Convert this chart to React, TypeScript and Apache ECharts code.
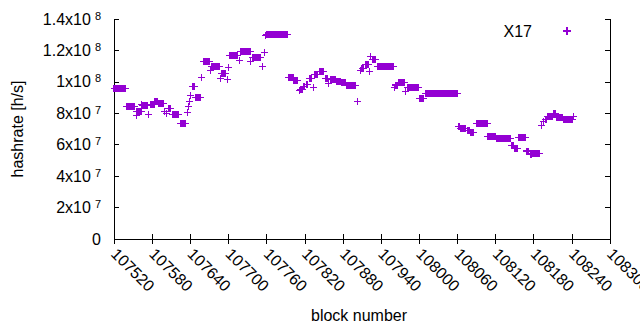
import React, { useEffect, useRef } from "react";
import * as echarts from "echarts";

// Runs of consecutive blocks sharing the same hashrate
const runStart = [
  107520, 107539, 107555, 107556, 107564, 107565, 107575, 107577, 107584, 107590,
  107600, 107603, 107605, 107612, 107624, 107635, 107637, 107639, 107641, 107643,
  107648, 107658, 107660, 107672, 107674, 107687, 107689, 107698, 107700, 107702,
  107717, 107719, 107735, 107738, 107753, 107756, 107758, 107760, 107795, 107803,
  107811, 107813, 107818, 107822, 107827, 107834, 107836, 107843, 107852, 107858,
  107860, 107870, 107878, 107886, 107903, 107907, 107910, 107915, 107922, 107924,
  107926, 107935, 107961, 107963, 107968, 107979, 107981, 108001, 108010, 108062,
  108065, 108076, 108081, 108090, 108108, 108121, 108145, 108150, 108156, 108168,
  108175, 108178, 108192, 108195, 108198, 108201, 108211, 108216, 108227, 108242,
];
const runEnd = [
  107538, 107553, 107555, 107563, 107564, 107572, 107575, 107583, 107589, 107598,
  107600, 107603, 107609, 107622, 107633, 107635, 107637, 107639, 107641, 107646,
  107656, 107658, 107670, 107672, 107686, 107687, 107696, 107698, 107700, 107714,
  107717, 107734, 107735, 107750, 107753, 107756, 107758, 107793, 107802, 107809,
  107811, 107816, 107820, 107824, 107830, 107834, 107840, 107850, 107856, 107858,
  107868, 107876, 107884, 107900, 107903, 107908, 107912, 107920, 107922, 107924,
  107932, 107960, 107961, 107966, 107977, 107979, 107999, 108007, 108060, 108064,
  108073, 108079, 108086, 108107, 108120, 108143, 108148, 108154, 108167, 108172,
  108176, 108189, 108193, 108196, 108200, 108209, 108215, 108226, 108241, 108242,
];
const runValue = [
  96.0e6, 84.4e6, 78.5e6, 81.4e6, 85.9e6, 84.8e6, 79.3e6, 85.7e6, 87.8e6, 86.3e6,
  81.4e6, 80.0e6, 83.2e6, 79.3e6, 73.6e6, 80.6e6, 84.6e6, 87.8e6, 91.2e6, 97.2e6,
  90.2e6, 102.9e6, 113.1e6, 107.1e6, 109.9e6, 102.3e6, 105.4e6, 101.6e6, 109.3e6, 116.9e6,
  113.3e6, 119.2e6, 112.8e6, 115.6e6, 109.6e6, 118.8e6, 129.4e6, 130.3e6, 102.9e6, 100.9e6,
  94.8e6, 95.3e6, 96.9e6, 98.3e6, 102.3e6, 96.5e6, 104.6e6, 106.8e6, 102.3e6, 99.1e6,
  101.2e6, 100.1e6, 99.9e6, 97.8e6, 87.6e6, 107.1e6, 108.4e6, 111.2e6, 106.5e6, 116.0e6,
  114.3e6, 109.9e6, 96.5e6, 98.0e6, 99.3e6, 93.7e6, 96.5e6, 89.5e6, 92.7e6, 71.9e6,
  70.4e6, 69.0e6, 67.6e6, 73.6e6, 65.4e6, 64.1e6, 59.4e6, 57.7e6, 64.7e6, 56.0e6,
  53.8e6, 54.5e6, 72.2e6, 74.6e6, 76.2e6, 77.8e6, 79.8e6, 77.4e6, 76.2e6, 78.0e6,
];

const seriesName = "X17";
const xMin = 107520;
const xMax = 108300;
const xStep = 60;
const yMin = 0;
const yMax = 1.4e8;
const yStep = 2e7;

const FONT = "'Liberation Sans', Arial, sans-serif";
const PURPLE = "#9400d3";
const PLUS = "path://M0,3H7V4H0Z M3,0H4V7H3Z";

function buildData(): number[][] {
  const out: number[][] = [];
  for (let i = 0; i < runStart.length; i++) {
    for (let b = runStart[i]; b <= runEnd[i]; b++) out.push([b, runValue[i]]);
  }
  return out;
}

function yLabel(v: number): string {
  if (v === 0) return "{m|0}";
  const e = Math.floor(Math.log10(v) + 1e-9);
  const m = Math.round((v / Math.pow(10, e)) * 10) / 10;
  return `{m|${m}x10}{e|${e}}`;
}

export default function App() {
  const ref = useRef<HTMLDivElement>(null);
  useEffect(() => {
    if (!ref.current) return;
    const chart = echarts.init(ref.current, null, { renderer: "svg" });
    const axisLine = { show: true, lineStyle: { color: "#000", width: 1 } };
    const tick = { show: true, inside: true, length: 5, lineStyle: { color: "#000", width: 1 } };
    chart.setOption({
      animation: false,
      backgroundColor: "#fff",
      grid: {
        left: 114,
        right: 30,
        top: 19,
        bottom: 91,
        containLabel: false,
        outerBoundsMode: "none",
      },
      legend: {
        show: true,
        data: [seriesName],
        right: 69,
        top: 23,
        padding: 0,
        align: "right",
        icon: PLUS,
        itemWidth: 8,
        itemHeight: 8,
        itemStyle: { opacity: 1 },
        textStyle: { fontSize: 16, fontFamily: FONT, color: "#000", padding: [0, 26, 0, 0] },
      },
      xAxis: [
        {
          type: "value",
          min: xMin,
          max: xMax,
          interval: xStep,
          axisLine,
          axisTick: tick,
          splitLine: { show: false },
          axisLabel: {
            rotate: -45,
            margin: 12,
            fontSize: 16,
            fontFamily: FONT,
            color: "#000",
            showMinLabel: true,
            showMaxLabel: true,
            hideOverlap: false,
            formatter: (v: number) => String(v),
          },
        },
        {
          type: "value",
          position: "top",
          min: xMin,
          max: xMax,
          interval: xStep,
          axisLine,
          axisTick: tick,
          axisLabel: { show: false },
          splitLine: { show: false },
        },
      ],
      yAxis: [
        {
          type: "value",
          min: yMin,
          max: yMax,
          interval: yStep,
          axisLine,
          axisTick: tick,
          splitLine: { show: false },
          axisLabel: {
            margin: 13,
            formatter: yLabel,
            rich: {
              m: { fontSize: 16, fontFamily: FONT, color: "#000", lineHeight: 18 },
              e: { fontSize: 11, fontFamily: FONT, color: "#000", verticalAlign: "top", padding: [0, 0, 0, 4] },
            },
          },
        },
        {
          type: "value",
          position: "right",
          min: yMin,
          max: yMax,
          interval: yStep,
          axisLine,
          axisTick: tick,
          axisLabel: { show: false },
          splitLine: { show: false },
        },
      ],
      graphic: [
        {
          type: "text",
          x: 17,
          y: 129,
          rotation: Math.PI / 2,
          style: {
            text: "hashrate [h/s]",
            fontSize: 16,
            fontFamily: FONT,
            fill: "#000",
            textAlign: "center",
            textVerticalAlign: "middle",
          },
        },
        {
          type: "text",
          x: 359,
          y: 315,
          style: {
            text: "block number",
            fontSize: 16,
            fontFamily: FONT,
            fill: "#000",
            textAlign: "center",
            textVerticalAlign: "middle",
          },
        },
      ],
      series: [
        {
          name: seriesName,
          type: "scatter",
          data: buildData(),
          symbol: PLUS,
          symbolSize: 7,
          itemStyle: { color: PURPLE, opacity: 1 },
          emphasis: { disabled: true },
          large: false,
        },
      ],
    });
    const svg = ref.current.querySelector("svg");
    if (svg) svg.setAttribute("shape-rendering", "crispEdges");
    return () => chart.dispose();
  }, []);
  return (
    <div
      ref={ref}
      style={{ position: "fixed", left: 0, top: 0, width: 640, height: 330, background: "#fff" }}
    />
  );
}
